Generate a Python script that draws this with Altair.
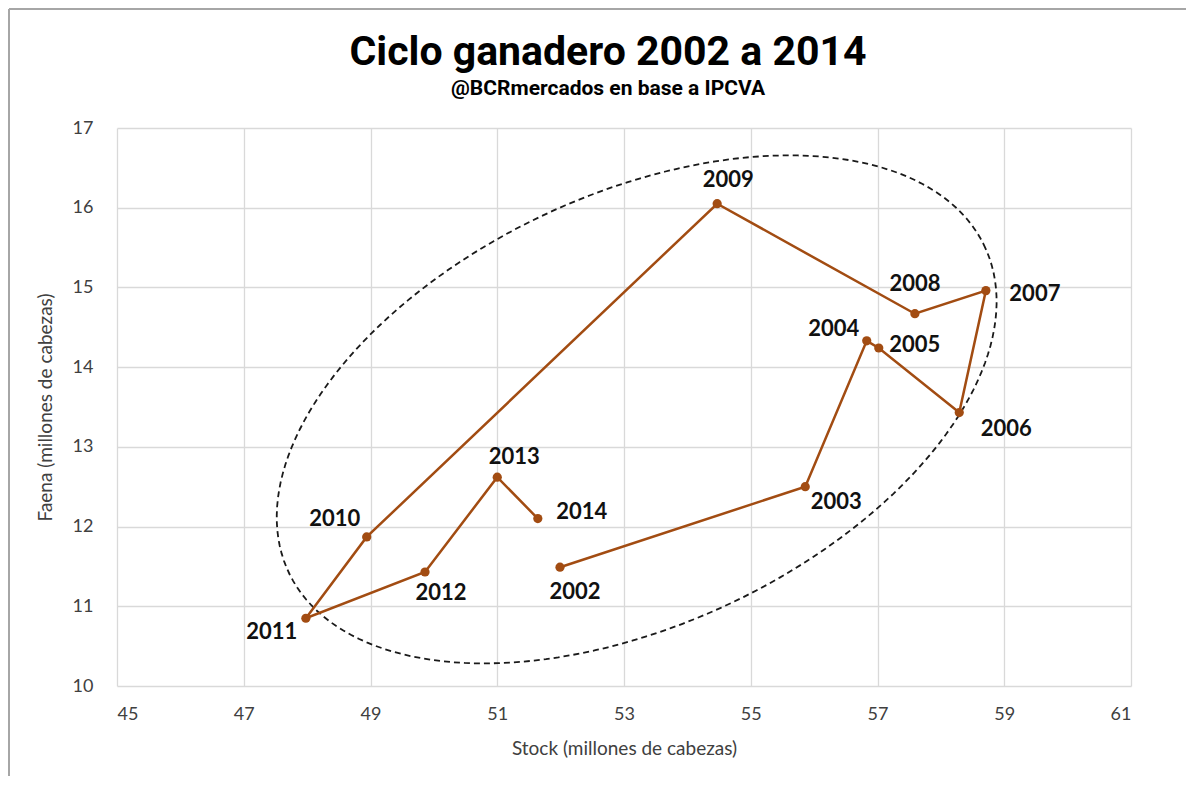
import altair as alt
import numpy as np
import pandas as pd

# ---- data ----
years = [2002, 2003, 2004, 2005, 2006, 2007, 2008, 2009, 2010, 2011, 2012, 2013, 2014]
stock = [51.99, 55.86, 56.83, 57.02, 58.29, 58.71, 57.59, 54.47, 48.94, 47.98, 49.86, 51.00, 51.64]
faena = [11.49, 12.50, 14.33, 14.24, 13.43, 14.96, 14.67, 16.05, 11.87, 10.85, 11.43, 12.62, 12.10]

x_ticks = [45, 47, 49, 51, 53, 55, 57, 59, 61]
y_ticks = [10, 11, 12, 13, 14, 15, 16, 17]

# label offsets (pixels) per year: (dx, dy)
label_offsets = {
    2002: (15, 25), 2003: (31, 15), 2004: (-33, -12), 2005: (36, -3),
    2006: (47, 16), 2007: (49, 3), 2008: (0, -30), 2009: (11, -24),
    2010: (-32, -18), 2011: (-34, 14), 2012: (16, 21), 2013: (17, -20),
    2014: (44, -7),
}

# dashed ellipse annotation (center and conjugate semi-diameters, data units)
ell_center = (53.2, 13.47)
ell_u = (5.475, 2.071)
ell_v = (1.510, -2.422)

df = pd.DataFrame({"year": years, "stock": stock, "faena": faena})
df["label"] = df["year"].astype(str)

t = np.linspace(0, 2 * np.pi, 181)
ell = pd.DataFrame({
    "i": np.arange(len(t)),
    "stock": ell_center[0] + ell_u[0] * np.cos(t) + ell_v[0] * np.sin(t),
    "faena": ell_center[1] + ell_u[1] * np.cos(t) + ell_v[1] * np.sin(t),
})

BROWN = "#A24C12"
FONT = "Lato"
TITLE_FONT = "Roboto"

xscale = alt.Scale(domain=[45, 61], nice=False, zero=False)
yscale = alt.Scale(domain=[10, 17], nice=False, zero=False)

xenc = alt.X("stock:Q", scale=xscale,
             axis=alt.Axis(values=x_ticks, format="d", title="Stock (millones de cabezas)",
                           grid=True, domain=False, ticks=False,
                           labelPadding=19, titlePadding=16))
yenc = alt.Y("faena:Q", scale=yscale,
             axis=alt.Axis(values=y_ticks, format="d", title="Faena (millones de cabezas)",
                           grid=True, domain=False, ticks=False,
                           labelPadding=24, titlePadding=17))

line = alt.Chart(df).mark_line(color=BROWN, strokeWidth=2.5).encode(
    x=xenc, y=yenc, order="year:Q")
pts = alt.Chart(df).mark_circle(color=BROWN, size=85, opacity=1).encode(
    x="stock:Q", y="faena:Q")

ellipse = alt.Chart(ell).mark_line(color="#1a1a1a", strokeWidth=1.8,
                                   strokeDash=[6, 4]).encode(
    x="stock:Q", y="faena:Q", order="i:Q")

labels = []
for yr in years:
    dx, dy = label_offsets[yr]
    labels.append(
        alt.Chart(df).transform_filter(alt.datum.year == yr)
        .mark_text(font=FONT, fontWeight="bold", fontSize=22, color="#111111",
                   dx=dx, dy=dy, align="center", baseline="middle")
        .encode(x="stock:Q", y="faena:Q", text="label:N")
    )

border_top = alt.Chart(df).mark_rule(color="#a6a6a6", strokeWidth=2).encode(
    x=alt.value(-108), x2=alt.value(1090), y=alt.value(-119))
border_left = alt.Chart(df).mark_rule(color="#a6a6a6", strokeWidth=2).encode(
    x=alt.value(-108), y=alt.value(-119), y2=alt.value(670))

chart = alt.layer(ellipse, line, pts, *labels, border_top, border_left).properties(
    width=1014, height=558,
    title=alt.Title("Ciclo ganadero 2002 a 2014",
                    subtitle="@BCRmercados en base a IPCVA",
                    font=TITLE_FONT, fontSize=41, fontWeight="bold",
                    color="#000000",
                    subtitleFont=TITLE_FONT, subtitleFontSize=21,
                    subtitleFontWeight="bold", subtitleColor="#000000",
                    subtitlePadding=4, frame="group",
                    anchor="middle", dx=-16, offset=-92),
    autosize=alt.AutoSizeParams(type="none"),
    padding={"left": 109, "top": 120, "right": 55, "bottom": 90},
).configure_view(stroke=None).configure_axis(
    gridColor="#d9d9d9", gridWidth=1.3,
    labelFont=FONT, labelFontSize=18, labelColor="#404040",
    titleFont=FONT, titleFontSize=19, titleFontWeight="normal", titleColor="#404040",
)

chart.save("out.html", embed_options={"renderer": "svg", "actions": False})
